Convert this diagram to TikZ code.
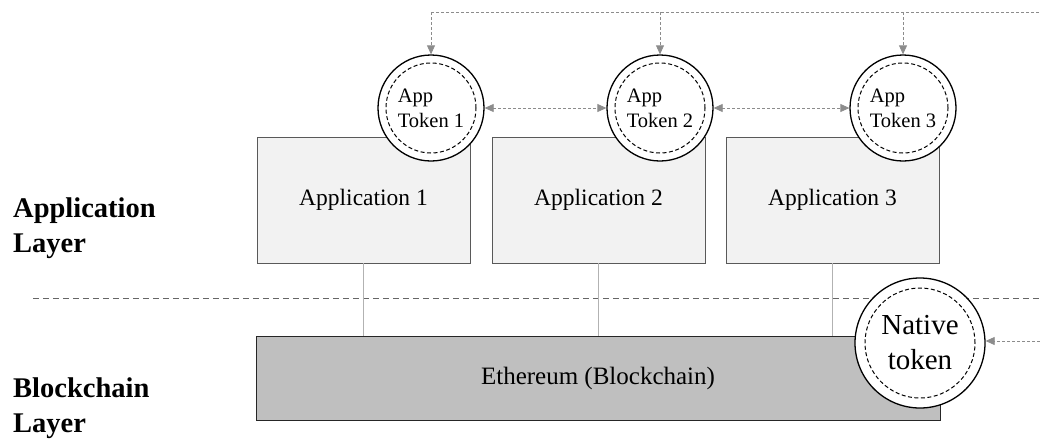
\documentclass[tikz,border=0pt]{standalone}
\usepackage{fontspec}
\setmainfont{Liberation Serif}
\usetikzlibrary{arrows.meta}
\definecolor{lgray}{HTML}{F2F2F2}
\definecolor{dgray}{HTML}{BFBFBF}
\definecolor{agray}{HTML}{8C8C8C}
\begin{document}
\begin{tikzpicture}[x=1pt,y=-1pt,
  appbox/.style={draw=black!65, line width=0.9pt, fill=lgray, minimum width=213pt, minimum height=126pt, inner sep=0pt, font=\fontsize{23.5}{26}\selectfont},
  chainbox/.style={draw=black!85, line width=1pt, fill=dgray, minimum width=684pt, minimum height=84pt, inner sep=0pt, font=\fontsize{25}{28}\selectfont},
  token/.style={circle, draw=black, line width=1.3pt, fill=white, minimum size=106pt, inner sep=0pt, align=left, font=\fontsize{20.5}{25}\selectfont},
  ntoken/.style={circle, draw=black, line width=1.3pt, fill=white, minimum size=130pt, inner sep=0pt, align=center, font=\fontsize{29}{35}\selectfont},
  flow/.style={draw=agray, dashed, dash pattern=on 3pt off 2pt, line width=0.8pt},
  tip/.style={-{Triangle[length=9pt,width=8pt]}},
  layer/.style={font=\bfseries\fontsize{28.5}{35}\selectfont, align=left, anchor=base west, inner sep=0pt},
  link/.style={draw=black!30, line width=0.7pt}
]
\useasboundingbox (0,0) rectangle (1040,439);
% layer labels
\node[layer] (la) at (13,252) {Application\\Layer};
\node[layer] (lb) at (13,432) {Blockchain\\Layer};
% separator
\coordinate (s1) at (33,298);
\coordinate (s2) at (1040,298);
\draw[dashed, dash pattern=on 6pt off 4pt, draw=black!60, line width=0.8pt] (s1) -- (s2);
% application boxes
\node[appbox] (a1) at (363.5,200) {Application 1};
\node[appbox] (a2) at (598.5,200) {Application 2};
\node[appbox] (a3) at (832.5,200) {Application 3};
% blockchain
\node[chainbox] (eth) at (598,378) {Ethereum (Blockchain)};
% links
\draw[link] (a1.south) -- (a1.south |- eth.north);
\draw[link] (a2.south) -- (a2.south |- eth.north);
\draw[link] (a3.south) -- (a3.south |- eth.north);
% tokens
\node[token] (t1) at (431,108) {App\\Token 1};
\node[token] (t2) at (660,108) {App\\Token 2};
\node[token] (t3) at (903,108) {App\\Token 3};
\foreach \t in {t1,t2,t3}{
  \draw[dashed, dash pattern=on 4pt off 2.5pt, line width=1pt] (\t.center) circle (45pt);
}
\node[ntoken] (nt) at (920,343) {Native\\token};
\draw[dashed, dash pattern=on 4pt off 2.5pt, line width=1pt] (nt.center) circle (55pt);
% top distribution line
\coordinate (c1) at (431,12);
\coordinate (c2) at (660,12);
\coordinate (c3) at (903,12);
\coordinate (ce) at (1040,12);
\draw[flow] (c1) -- (ce);
\draw[flow, tip] (c1) -- (t1.north);
\draw[flow, tip] (c2) -- (t2.north);
\draw[flow, tip] (c3) -- (t3.north);
% between tokens
\draw[flow, {Triangle[length=9pt,width=8pt]}-{Triangle[length=9pt,width=8pt]}] (t1.east) -- (t2.west);
\draw[flow, {Triangle[length=9pt,width=8pt]}-{Triangle[length=9pt,width=8pt]}] (t2.east) -- (t3.west);
% native token input
\coordinate (ne) at (1040,341);
\draw[flow, tip] (ne) -- (nt.east |- ne);
\end{tikzpicture}
\end{document}
